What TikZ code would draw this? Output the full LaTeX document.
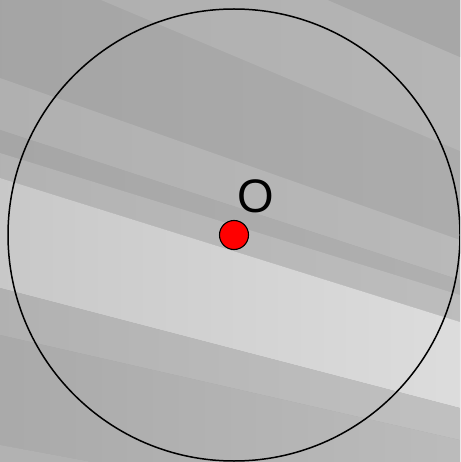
\documentclass[tikz,border=0pt]{standalone}
\usepackage{fontspec}
\setmainfont{Liberation Sans}
\begin{document}
\begin{tikzpicture}[x=1pt,y=-1pt,
  band/.style args={#1/#2}{left color=#1, right color=#2, draw=none},
  ring/.style={draw=black, line width=1.5pt, fill=none},
  centredot/.style={circle, draw=black, line width=1.1pt, fill=red, minimum size=29pt, inner sep=0pt},
  lbl/.style={font=\fontsize{47}{50}\selectfont, inner sep=0pt}]
\useasboundingbox (0,0) rectangle (460,462);
\clip (0,0) rectangle (460,462);
% background bands
\shade[band={gray!70!white!93!black}/{gray!70!white!98!black}] (0,0) rectangle (460,462);
\definecolor{gA}{gray}{0.645}\definecolor{gAr}{gray}{0.675}
\shade[left color=gA, right color=gAr] (0,0) rectangle (460,462);
\definecolor{gB}{gray}{0.69}\definecolor{gBr}{gray}{0.71}
\shade[band={gB}/{gBr}] (101,0) -- (328,0) -- (460,57) -- (460,151) -- cycle;
\definecolor{gC}{gray}{0.655}
\fill[gC] (328,0) -- (460,0) -- (460,57) -- cycle;
\definecolor{gE}{gray}{0.69}\definecolor{gEr}{gray}{0.725}
\shade[band={gE}/{gEr}] (0,78) -- (460,240) -- (460,280) -- (0,130) -- cycle;
\definecolor{gF}{gray}{0.65}\definecolor{gFr}{gray}{0.69}
\shade[band={gF}/{gFr}] (0,130) -- (460,280) -- (460,295) -- (0,153) -- cycle;
\definecolor{gG}{gray}{0.70}\definecolor{gGr}{gray}{0.74}
\shade[band={gG}/{gGr}] (0,153) -- (460,295) -- (460,322) -- (0,178) -- cycle;
\definecolor{gH}{gray}{0.785}\definecolor{gHr}{gray}{0.865}
\shade[band={gH}/{gHr}] (0,178) -- (460,322) -- (460,408) -- (0,288) -- cycle;
\definecolor{gI}{gray}{0.695}\definecolor{gIr}{gray}{0.755}
\shade[band={gI}/{gIr}] (0,288) -- (460,408) -- (460,440) -- (0,335) -- cycle;
\definecolor{gJ}{gray}{0.665}\definecolor{gJr}{gray}{0.735}
\shade[band={gJ}/{gJr}] (0,335) -- (460,440) -- (460,530) -- (0,445) -- cycle;
\definecolor{gK}{gray}{0.70}
\fill[gK] (0,445) -- (460,530) -- (460,540) -- (0,540) -- cycle;
% figure
\coordinate (O) at (234,235);
\draw[ring] (O) circle[radius=226];
\node[centredot] (dot) at (O) {};
\node[lbl] (lab) at (256,196) {O};
\end{tikzpicture}
\end{document}
